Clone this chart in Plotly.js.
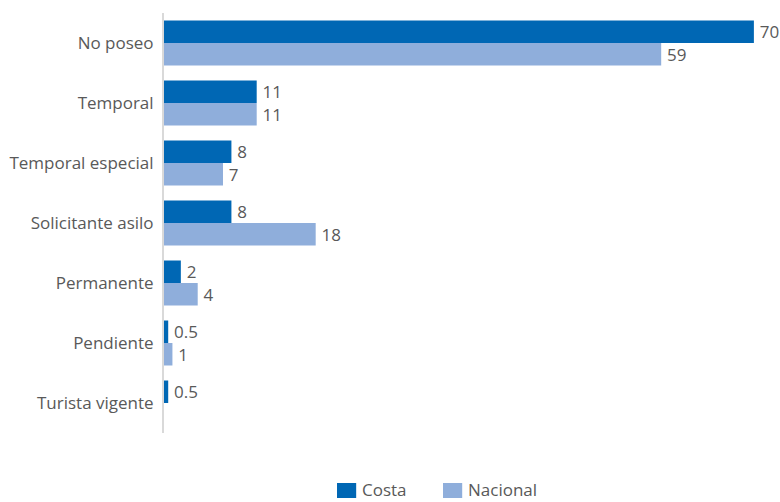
<!DOCTYPE html>
<html>
<head>
<meta charset="utf-8">
<script src="https://cdn.plot.ly/plotly-3.0.1.min.js"></script>
<style>html,body{margin:0;padding:0;background:#fff;}#chart{width:780px;height:502px;}</style>
</head>
<body>
<div id="chart"></div>
<script>
const categories = ["No poseo", "Temporal", "Temporal especial", "Solicitante asilo", "Permanente", "Pendiente", "Turista vigente"];
const costa = [70, 11, 8, 8, 2, 0.5, 0.5];
const nacional = [59, 11, 7, 18, 4, 1, null];
const seriesNames = ["Costa", "Nacional"];
const seriesColors = ['#0067b4', '#8faedb'];

const fontFam = '"Open Sans", "Noto Sans", sans-serif';
const txtColor = '#595959';
const fs = 17;

function mkTrace(i, vals){
  return {type:'bar', orientation:'h', name:seriesNames[i], y:categories, x:vals,
    marker:{color:seriesColors[i]}, texttemplate:'\u2009%{x}', textposition:'outside', cliponaxis:false,
    constraintext:'none', textfont:{family:fontFam, size:fs, color:txtColor}, showlegend:false};
}
const traces = [mkTrace(0, costa), mkTrace(1, nacional)];

// manual legend (larger swatches as in the reference)
const legY0 = -0.119, legY1 = -0.1548, legYc = -0.1357;
const legX = [0.2883, 0.465];
const shapes = seriesNames.map((n, i) => ({type:'rect', xref:'paper', yref:'paper',
  x0:legX[i], x1:legX[i] + 0.032, y0:legY1, y1:legY0, fillcolor:seriesColors[i], line:{width:0}}));
const annotations = seriesNames.map((n, i) => ({xref:'paper', yref:'paper', x:legX[i] + 0.04, y:legYc,
  xanchor:'left', yanchor:'middle', showarrow:false, text:n, borderpad:0,
  font:{family:fontFam, size:fs, color:txtColor}}));

const layout = {
  width:780, height:502,
  margin:{l:164, r:16, t:13, b:69, autoexpand:false},
  paper_bgcolor:'#fff', plot_bgcolor:'#fff',
  barmode:'group', bargap:0.25, bargroupgap:0,
  font:{family:fontFam, size:fs, color:txtColor},
  xaxis:{range:[0, 71.2], visible:false, showgrid:false, zeroline:false, fixedrange:true},
  yaxis:{type:'category', autorange:'reversed', showline:true, linecolor:'#d9d9d9', linewidth:2,
         showgrid:false, zeroline:false, ticks:'', ticklabelstandoff:5,
         tickfont:{family:fontFam, size:fs, color:txtColor}},
  showlegend:false,
  shapes: shapes,
  annotations: annotations
};

Plotly.newPlot('chart', traces, layout, {displayModeBar:false, staticPlot:true});
</script>
</body>
</html>
